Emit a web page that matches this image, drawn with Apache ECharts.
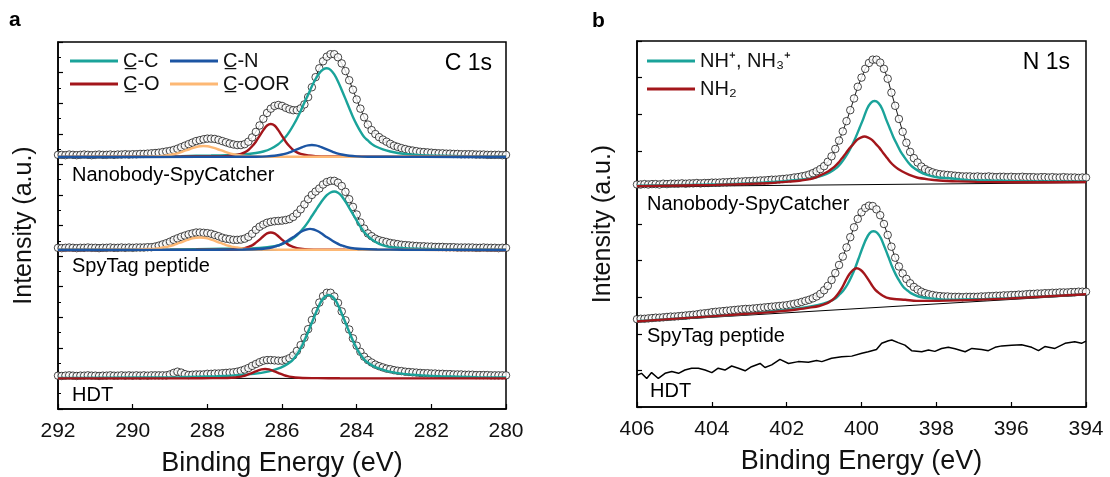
<!DOCTYPE html>
<html><head><meta charset="utf-8">
<script src="https://cdn.jsdelivr.net/npm/echarts/dist/echarts.min.js"></script>
<style>html,body{margin:0;padding:0;background:#fff}#c{width:1110px;height:477px}</style>
</head><body><div id="c"></div>
<script>
// ---------- energy grids (eV) ----------
const cEnergy = Array.from({length:121},(_,i)=>Math.round((292-i*0.1)*10)/10);
const nEnergy = Array.from({length:121},(_,i)=>Math.round((406-i*0.1)*10)/10);

// ---------- C 1s measured points (offset stacked) ----------
const cNanoData = [8.31,
8.31,8.30,8.32,8.31,8.30,8.31,8.32,8.31,8.30,8.31,
8.32,8.31,8.31,8.32,8.31,8.32,8.32,8.33,8.32,8.33,
8.33,8.34,8.34,8.35,8.36,8.37,8.38,8.40,8.42,8.44,
8.47,8.51,8.56,8.61,8.66,8.71,8.76,8.79,8.82,8.84,
8.84,8.83,8.80,8.76,8.72,8.68,8.65,8.63,8.63,8.66,
8.74,8.88,9.06,9.27,9.49,9.68,9.82,9.91,9.94,9.91,
9.85,9.80,9.77,9.77,9.83,9.96,10.20,10.52,10.85,11.14,
11.37,11.52,11.60,11.60,11.50,11.30,11.05,10.75,10.44,10.12,
9.82,9.54,9.30,9.12,8.99,8.89,8.81,8.74,8.67,8.61,
8.57,8.53,8.50,8.47,8.45,8.43,8.41,8.40,8.39,8.38,
8.37,8.36,8.36,8.35,8.35,8.34,8.34,8.33,8.33,8.33,
8.33,8.32,8.32,8.32,8.31,8.31,8.31,8.31,8.30,8.31];
const cSpyData = [
5.27,5.26,5.27,5.28,5.27,5.26,5.27,5.27,5.28,5.27,
5.27,5.26,5.27,5.27,5.28,5.27,5.27,5.28,5.27,5.28,
5.27,5.28,5.28,5.28,5.29,5.29,5.31,5.34,5.38,5.42,
5.47,5.53,5.58,5.63,5.67,5.71,5.74,5.77,5.77,5.76,
5.75,5.73,5.69,5.65,5.60,5.57,5.55,5.53,5.53,5.54,
5.57,5.63,5.73,5.86,5.96,6.03,6.09,6.12,6.14,6.15,
6.16,6.18,6.21,6.28,6.39,6.53,6.69,6.86,7.00,7.11,
7.21,7.34,7.42,7.46,7.46,7.40,7.29,7.10,6.86,6.61,
6.36,6.10,5.90,5.74,5.65,5.57,5.52,5.49,5.46,5.43,
5.41,5.39,5.37,5.36,5.35,5.34,5.33,5.32,5.32,5.31,
5.31,5.30,5.30,5.30,5.29,5.29,5.29,5.28,5.28,5.28,
5.28,5.28,5.27,5.27,5.28,5.27,5.27,5.27,5.26,5.27,
5.27];
const cHdtData = [
1.09,1.08,1.09,1.10,1.09,1.08,1.09,1.09,1.10,1.09,
1.09,1.08,1.09,1.09,1.10,1.09,1.09,1.10,1.09,1.10,
1.09,1.10,1.09,1.10,1.09,1.10,1.10,1.10,1.10,1.10,
1.13,1.18,1.22,1.19,1.14,1.11,1.12,1.13,1.13,1.13,
1.15,1.15,1.16,1.16,1.17,1.18,1.19,1.20,1.22,1.25,
1.29,1.34,1.41,1.47,1.53,1.58,1.60,1.60,1.59,1.58,
1.58,1.61,1.66,1.75,1.90,2.09,2.33,2.61,2.91,3.20,
3.48,3.69,3.80,3.80,3.68,3.47,3.19,2.90,2.60,2.31,
2.07,1.87,1.71,1.60,1.52,1.45,1.40,1.36,1.32,1.30,
1.27,1.25,1.24,1.22,1.21,1.20,1.19,1.18,1.17,1.17,
1.16,1.16,1.15,1.15,1.14,1.14,1.13,1.13,1.13,1.12,
1.12,1.12,1.11,1.11,1.11,1.11,1.10,1.10,1.10,1.10,
1.10];

// ---------- C 1s fitted components [eV, intensity] ----------
const cNanoCC = [[292,8.245],[290.1,8.25],[288.7,8.27],[287.9,8.29],[287.3,8.31],[286.9,8.34],[286.7,8.37],[286.5,8.42],[286.3,8.51],[286.1,8.66],[286.0,8.77],[285.9,8.90],[285.8,9.07],[285.7,9.27],[285.6,9.49],[285.5,9.74],[285.4,10.02],[285.3,10.28],[285.2,10.55],[285.1,10.79],[285.0,10.98],[284.9,11.10],[284.8,11.14],[284.7,11.09],[284.6,10.94],[284.5,10.71],[284.4,10.43],[284.3,10.14],[284.2,9.84],[284.1,9.55],[284.0,9.30],[283.9,9.08],[283.8,8.89],[283.7,8.78],[283.6,8.67],[283.5,8.59],[283.3,8.49],[283.1,8.42],[282.9,8.37],[282.7,8.34],[282.3,8.30],[281.7,8.28],[281.1,8.265],[280,8.255]];
const cNanoCO = [[292,8.245],[288.9,8.25],[287.9,8.26],[287.5,8.27],[287.3,8.29],[287.1,8.34],[287.0,8.39],[286.9,8.47],[286.8,8.59],[286.7,8.74],[286.6,8.93],[286.5,9.12],[286.4,9.27],[286.3,9.32],[286.2,9.27],[286.1,9.12],[286.0,8.93],[285.9,8.74],[285.8,8.59],[285.7,8.47],[285.6,8.39],[285.5,8.34],[285.3,8.29],[285.1,8.27],[284.7,8.26],[283.7,8.25],[280,8.245]];
const cNanoCN = [[292,8.24],[288.2,8.244],[287.2,8.247],[286.7,8.25],[286.4,8.26],[286.2,8.28],[286.0,8.32],[285.9,8.35],[285.8,8.39],[285.7,8.44],[285.6,8.49],[285.5,8.54],[285.4,8.59],[285.3,8.62],[285.2,8.63],[285.1,8.62],[285.0,8.59],[284.9,8.54],[284.8,8.49],[284.7,8.44],[284.6,8.39],[284.5,8.35],[284.4,8.32],[284.2,8.28],[284.0,8.26],[283.7,8.25],[283.2,8.247],[282.2,8.244],[280,8.24]];
const cNanoCOOR = [[292,8.245],[290.1,8.248],[289.6,8.255],[289.3,8.268],[289.1,8.29],[288.9,8.33],[288.8,8.36],[288.7,8.40],[288.6,8.445],[288.5,8.485],[288.4,8.53],[288.3,8.565],[288.2,8.59],[288.1,8.60],[288.0,8.59],[287.9,8.565],[287.8,8.53],[287.7,8.485],[287.6,8.445],[287.5,8.40],[287.4,8.36],[287.3,8.33],[287.1,8.29],[286.9,8.268],[286.6,8.255],[286.1,8.248],[280,8.245]];
const cNanoBase = [[292,8.24],[280,8.24]];

const cSpyCC = [[292,5.21],[289,5.215],[287.6,5.24],[286.6,5.27],[286.2,5.32],[286.0,5.39],[285.8,5.50],[285.6,5.68],[285.5,5.81],[285.4,5.95],[285.3,6.12],[285.2,6.31],[285.1,6.49],[285.0,6.68],[284.9,6.85],[284.8,6.99],[284.7,7.08],[284.6,7.11],[284.5,7.07],[284.4,6.96],[284.3,6.78],[284.2,6.58],[284.1,6.37],[284.0,6.16],[283.9,5.96],[283.8,5.79],[283.7,5.66],[283.6,5.55],[283.4,5.40],[283.2,5.32],[283.0,5.28],[282.6,5.25],[281.6,5.22],[280,5.21]];
const cSpyCO = [[292,5.2],[288.3,5.205],[287.7,5.21],[287.3,5.22],[287.1,5.24],[287.0,5.26],[286.9,5.30],[286.8,5.35],[286.7,5.44],[286.6,5.54],[286.5,5.65],[286.4,5.74],[286.3,5.77],[286.2,5.74],[286.1,5.65],[286.0,5.54],[285.9,5.44],[285.8,5.35],[285.7,5.30],[285.6,5.26],[285.5,5.24],[285.3,5.22],[284.9,5.21],[284.3,5.205],[280,5.2]];
const cSpyCN = [[292,5.2],[287.75,5.208],[287.05,5.217],[286.65,5.23],[286.45,5.25],[286.25,5.29],[286.15,5.33],[286.05,5.37],[285.95,5.43],[285.85,5.50],[285.75,5.58],[285.65,5.66],[285.55,5.75],[285.45,5.82],[285.35,5.87],[285.25,5.89],[285.15,5.87],[285.05,5.82],[284.95,5.75],[284.85,5.66],[284.75,5.58],[284.65,5.50],[284.55,5.43],[284.45,5.37],[284.35,5.33],[284.25,5.29],[284.05,5.25],[283.85,5.23],[283.45,5.217],[282.75,5.208],[280,5.2]];
const cSpyCOOR = [[292,5.2],[290.7,5.207],[290.0,5.21],[289.6,5.23],[289.4,5.24],[289.2,5.28],[289.1,5.30],[289.0,5.33],[288.9,5.36],[288.8,5.41],[288.7,5.45],[288.6,5.50],[288.5,5.54],[288.4,5.58],[288.3,5.60],[288.2,5.61],[288.1,5.60],[288.0,5.58],[287.9,5.54],[287.8,5.50],[287.7,5.45],[287.6,5.41],[287.5,5.36],[287.4,5.33],[287.3,5.30],[287.2,5.28],[287.0,5.24],[286.8,5.23],[286.4,5.21],[285.7,5.207],[280,5.2]];
const cSpyBase = [[292,5.2],[280,5.2]];

const cHdtCC = [[292,1.013],[291.75,1.015],[289.75,1.03],[288.75,1.04],[287.75,1.07],[287.25,1.10],[286.75,1.15],[286.35,1.23],[286.15,1.30],[285.95,1.40],[285.75,1.56],[285.65,1.70],[285.55,1.88],[285.45,2.10],[285.35,2.37],[285.25,2.67],[285.15,2.97],[285.05,3.26],[284.95,3.52],[284.85,3.67],[284.75,3.73],[284.65,3.67],[284.55,3.52],[284.45,3.26],[284.35,2.97],[284.25,2.67],[284.15,2.37],[284.05,2.10],[283.95,1.88],[283.85,1.70],[283.75,1.56],[283.55,1.40],[283.35,1.30],[283.15,1.23],[282.75,1.15],[282.25,1.10],[281.75,1.07],[280.75,1.04],[280,1.03]];
const cHdtCO = [[292,1.0],[288.45,1.003],[287.85,1.008],[287.45,1.016],[287.25,1.032],[287.15,1.049],[287.05,1.074],[286.95,1.11],[286.85,1.155],[286.75,1.206],[286.65,1.257],[286.55,1.295],[286.45,1.31],[286.35,1.295],[286.25,1.257],[286.15,1.206],[286.05,1.155],[285.95,1.11],[285.85,1.074],[285.75,1.049],[285.65,1.032],[285.45,1.016],[285.05,1.008],[284.45,1.003],[280,1.0]];
const cHdtBase = [[292,1.0],[280,1.0]];

// ---------- N 1s measured points ----------
const nNanoData = [
6.08,6.08,6.09,6.08,6.09,6.09,6.08,6.10,6.09,6.10,
6.10,6.10,6.11,6.10,6.11,6.11,6.12,6.11,6.12,6.12,
6.13,6.13,6.13,6.14,6.14,6.15,6.15,6.16,6.16,6.17,
6.17,6.18,6.18,6.19,6.19,6.20,6.21,6.21,6.22,6.23,
6.24,6.25,6.27,6.28,6.30,6.32,6.35,6.39,6.44,6.50,
6.58,6.70,6.85,7.05,7.28,7.53,7.81,8.11,8.43,8.75,
9.00,9.24,9.40,9.49,9.49,9.41,9.24,8.97,8.59,8.23,
7.87,7.52,7.22,6.97,6.80,6.68,6.57,6.50,6.45,6.41,
6.38,6.36,6.35,6.34,6.33,6.32,6.31,6.30,6.30,6.30,
6.29,6.30,6.29,6.29,6.30,6.29,6.28,6.29,6.29,6.28,
6.29,6.28,6.28,6.29,6.28,6.28,6.28,6.27,6.28,6.28,
6.27,6.28,6.27,6.27,6.28,6.27,6.27,6.27,6.26,6.27,
6.27];
const nSpyData = [
2.40,2.41,2.41,2.42,2.43,2.44,2.44,2.45,2.46,2.47,
2.47,2.48,2.49,2.50,2.51,2.52,2.53,2.55,2.56,2.57,
2.59,2.60,2.61,2.62,2.63,2.64,2.65,2.66,2.67,2.68,
2.68,2.69,2.70,2.71,2.72,2.73,2.74,2.75,2.76,2.77,
2.78,2.80,2.82,2.84,2.87,2.90,2.93,2.97,3.02,3.09,
3.19,3.31,3.47,3.66,3.88,4.11,4.36,4.64,4.91,5.14,
5.32,5.44,5.50,5.49,5.40,5.24,5.00,4.70,4.38,4.08,
3.84,3.65,3.50,3.38,3.28,3.21,3.15,3.11,3.08,3.06,
3.04,3.03,3.02,3.02,3.01,3.01,3.01,3.00,3.01,3.01,
3.01,3.01,3.02,3.02,3.03,3.03,3.04,3.04,3.05,3.05,
3.06,3.06,3.07,3.07,3.08,3.09,3.09,3.10,3.10,3.11,
3.11,3.12,3.12,3.13,3.13,3.13,3.14,3.14,3.15,3.15,
3.15];
const nHdtLine = [[406,0.87],[405.88,0.92],[405.74,0.78],[405.61,0.94],[405.43,0.78],[405.25,0.92],[405.07,0.97],[404.89,0.92],[404.72,1.01],[404.54,1.06],[404.36,1.06],[404.18,1.01],[404.0,0.94],[403.83,1.06],[403.65,1.01],[403.47,1.12],[403.29,1.06],[403.11,0.99],[402.94,1.10],[402.71,1.19],[402.58,1.08],[402.4,1.15],[402.18,1.30],[401.95,1.19],[401.69,1.24],[401.42,1.22],[401.2,1.27],[401.06,1.24],[400.8,1.33],[400.53,1.37],[400.26,1.39],[399.99,1.47],[399.82,1.51],[399.6,1.57],[399.46,1.74],[399.28,1.81],[399.19,1.83],[399.02,1.76],[398.84,1.69],[398.66,1.54],[398.39,1.51],[398.21,1.56],[398.04,1.52],[397.86,1.60],[397.68,1.63],[397.5,1.59],[397.23,1.51],[397.05,1.60],[396.79,1.57],[396.61,1.54],[396.43,1.63],[396.25,1.67],[395.99,1.69],[395.72,1.70],[395.45,1.63],[395.27,1.54],[395.1,1.65],[394.83,1.60],[394.56,1.74],[394.3,1.78],[394.12,1.74],[394.0,1.80]];

// ---------- N 1s fitted components ----------
const nNanoNH3 = [[406,6.045],[403.65,6.09],[402.65,6.13],[402.15,6.16],[401.65,6.21],[401.35,6.24],[401.05,6.32],[400.85,6.41],[400.65,6.55],[400.55,6.66],[400.45,6.80],[400.35,6.96],[400.25,7.16],[400.15,7.38],[400.05,7.63],[399.95,7.88],[399.85,8.15],[399.75,8.31],[399.65,8.36],[399.55,8.31],[399.45,8.15],[399.35,7.88],[399.25,7.63],[399.15,7.38],[399.05,7.17],[398.95,6.97],[398.85,6.82],[398.75,6.68],[398.65,6.57],[398.45,6.43],[398.25,6.34],[397.95,6.27],[397.65,6.25],[397.15,6.20],[396.65,6.19],[395.65,6.165],[394,6.16]];
const nNanoNH2 = [[406,6.035],[403.92,6.07],[402.92,6.10],[402.42,6.12],[401.92,6.16],[401.62,6.19],[401.32,6.24],[401.12,6.32],[400.92,6.42],[400.82,6.49],[400.72,6.57],[400.62,6.67],[400.52,6.80],[400.42,6.93],[400.32,7.07],[400.22,7.18],[400.12,7.30],[400.02,7.36],[399.92,7.39],[399.82,7.36],[399.72,7.30],[399.62,7.19],[399.52,7.08],[399.42,6.94],[399.32,6.81],[399.22,6.68],[399.12,6.58],[399.02,6.50],[398.92,6.44],[398.72,6.34],[398.52,6.27],[398.22,6.22],[397.92,6.19],[397.42,6.165],[396.92,6.15],[395.92,6.14],[394,6.146]];
const nNanoBase = [[406,6.02],[394,6.13]];
const nSpyNH3 = [[406,2.345],[403.68,2.50],[402.68,2.58],[401.68,2.69],[401.18,2.78],[400.88,2.87],[400.68,2.98],[400.58,3.08],[400.48,3.19],[400.38,3.34],[400.28,3.54],[400.18,3.77],[400.08,4.05],[399.98,4.33],[399.88,4.58],[399.78,4.75],[399.68,4.80],[399.58,4.76],[399.48,4.61],[399.38,4.36],[399.28,4.10],[399.18,3.83],[399.08,3.61],[398.98,3.43],[398.88,3.28],[398.78,3.19],[398.68,3.11],[398.48,3.02],[398.18,2.97],[397.68,2.93],[396.68,2.95],[395.68,2.99],[394,3.08]];
const nSpyNH2 = [[406,2.34],[404.13,2.47],[403.13,2.54],[402.13,2.62],[401.63,2.68],[401.43,2.71],[401.13,2.76],[400.93,2.83],[400.83,2.89],[400.73,2.97],[400.63,3.09],[400.53,3.24],[400.43,3.44],[400.33,3.62],[400.23,3.74],[400.13,3.79],[400.03,3.75],[399.93,3.65],[399.83,3.50],[399.73,3.34],[399.63,3.20],[399.53,3.11],[399.43,3.04],[399.33,2.99],[399.13,2.95],[398.83,2.93],[398.53,2.90],[398.13,2.90],[397.13,2.92],[396.13,2.96],[394,3.08]];
const nSpyBase = [[406,2.33],[394,3.06]];

// ---------- labels ----------
const cTicks = [292,290,288,286,284,282,280];
const nTicks = [406,404,402,400,398,396,394];
const nameCC = 'C\u0332-C', nameCO = 'C\u0332-O', nameCN = 'C\u0332-N', nameCOOR = 'C\u0332-OOR';
const nameNH3 = 'NH\u207A, NH\u2083\u207A', nameNH2 = 'NH\u2082';
const sampleLabels = ['Nanobody-SpyCatcher','SpyTag peptide','HDT'];

// ---------- styling ----------
const FF = '"Liberation Sans", Arial, Helvetica, sans-serif';
const TXT = '#111';
const TEAL = '#1aa39a', RED = '#a3161b', BLUE = '#1c55a3', ORANGE = '#fdb874';

function zip(xs, ys){ return ys.map((y,i)=>[xs[i], y]); }
function scat(xs, ys, gi){
  return {type:'scatter', xAxisIndex:gi, yAxisIndex:gi, data:zip(xs,ys), symbol:'circle', symbolSize:7.5,
    itemStyle:{color:'#fff', borderColor:'#000', borderWidth:0.9}, silent:true, z:2, animation:false};
}
function ln(name, data, color, gi, w, smooth, z){
  return {type:'line', name:name, xAxisIndex:gi, yAxisIndex:gi, data:data, showSymbol:false, symbol:'none',
    smooth: smooth===undefined?0.3:smooth, lineStyle:{color:color, width:w||2.4}, itemStyle:{color:color}, silent:true, z:z||3, animation:false};
}

function xAx(gi, min, max){
  return {gridIndex:gi, type:'value', min:min, max:max, interval:2, inverse:true,
    axisLine:{show:true, onZero:false, lineStyle:{color:'#000', width:1.5}},
    axisTick:{show:true, inside:true, length:5, lineStyle:{color:'#000', width:1.2}},
    axisLabel:{fontSize:21, color:TXT, margin:12, fontFamily:FF},
    splitLine:{show:false},
    name:'Binding Energy (eV)', nameLocation:'middle', nameGap:41,
    nameTextStyle:{fontSize:27, color:TXT, fontFamily:FF}};
}
function yAx(gi, max, minor){
  return {gridIndex:gi, type:'value', min:0, max:max, interval:1,
    axisLine:{show:true, lineStyle:{color:'#000', width:1.5}},
    axisTick:{show:true, inside:true, length:5, lineStyle:{color:'#000', width:1.2}},
    minorTick:{show:minor, splitNumber:2, length:3, lineStyle:{color:'#000', width:1}},
    axisLabel:{show:false}, splitLine:{show:false}, minorSplitLine:{show:false},
    name:'Intensity (a.u.)', nameLocation:'middle', nameGap:21, nameRotate:90,
    nameTextStyle:{fontSize:25, color:TXT, fontFamily:FF}};
}
function legendCfg(data, left, top, gap){
  return {data:data, orient:'vertical', left:left, top:top, itemWidth:48, itemHeight:3, itemGap:gap,
    icon:'rect', selectedMode:false, padding:0,
    textStyle:{fontSize:20, lineHeight:20, color:TXT, fontFamily:FF}};
}
function txt(text, x, y, size, opts){
  opts = opts || {};
  return {type:'text', x:x, y:y, silent:true, z:10,
    style:{text:text, fontSize:size, fontFamily:FF, fontWeight:opts.bold?'bold':'normal', fill:'#000',
      align:opts.align||'left', verticalAlign:'middle'}};
}

const series = [
  // thin measured-data traces under the open circles
  ln(null, zip(cEnergy, cNanoData), '#000', 0, 0.9, false, 1),
  ln(null, zip(cEnergy, cSpyData), '#000', 0, 0.9, false, 1),
  ln(null, zip(cEnergy, cHdtData), '#000', 0, 0.9, false, 1),
  scat(cEnergy, cNanoData, 0), scat(cEnergy, cSpyData, 0), scat(cEnergy, cHdtData, 0),
  ln(null, cNanoBase, '#000', 0, 1, false), ln(null, cSpyBase, '#000', 0, 1, false), ln(null, cHdtBase, '#000', 0, 1, false),
  ln(nameCC, cNanoCC, TEAL, 0), ln(nameCC, cSpyCC, TEAL, 0), ln(nameCC, cHdtCC, TEAL, 0),
  ln(nameCO, cNanoCO, RED, 0), ln(nameCO, cSpyCO, RED, 0), ln(nameCO, cHdtCO, RED, 0),
  ln(nameCOOR, cNanoCOOR, ORANGE, 0), ln(nameCOOR, cSpyCOOR, ORANGE, 0),
  ln(nameCN, cNanoCN, BLUE, 0), ln(nameCN, cSpyCN, BLUE, 0),

  ln(null, zip(nEnergy, nNanoData), '#000', 1, 0.9, false, 1),
  ln(null, zip(nEnergy, nSpyData), '#000', 1, 0.9, false, 1),
  scat(nEnergy, nNanoData, 1), scat(nEnergy, nSpyData, 1),
  ln(null, nNanoBase, '#000', 1, 1, false), ln(null, nSpyBase, '#000', 1, 1, false),
  ln(nameNH3, nNanoNH3, TEAL, 1), ln(nameNH3, nSpyNH3, TEAL, 1),
  ln(nameNH2, nNanoNH2, RED, 1), ln(nameNH2, nSpyNH2, RED, 1),
  ln(null, nHdtLine, '#000', 1, 1.5, false)
];

const chart = echarts.init(document.getElementById('c'), null, {renderer:'canvas'});
chart.setOption({
  backgroundColor:'#fff',
  animation:false,
  textStyle:{fontFamily:FF},
  grid:[
    {left:58, top:42, width:448, height:367, show:true, borderColor:'#000', borderWidth:1.5, backgroundColor:'transparent', containLabel:false, outerBoundsMode:'none'},
    {left:637, top:41, width:449, height:366, show:true, borderColor:'#000', borderWidth:1.5, backgroundColor:'transparent', containLabel:false, outerBoundsMode:'none'}
  ],
  xAxis:[xAx(0, cTicks[cTicks.length-1], cTicks[0]), xAx(1, nTicks[nTicks.length-1], nTicks[0])],
  yAxis:[yAx(0, 12, true), yAx(1, 10, false)],
  legend:[
    legendCfg([nameCC, nameCO], 70, 51, 3),
    legendCfg([nameCN, nameCOOR], 170, 51, 3),
    legendCfg([nameNH3, nameNH2], 647, 51, 8)
  ],
  graphic:[
    txt('a', 9, 20, 21, {bold:true}),
    txt('b', 592, 21, 21, {bold:true}),
    txt('C 1s', 492, 64, 23, {align:'right'}),
    txt('N 1s', 1070, 63, 23, {align:'right'}),
    txt(sampleLabels[0], 72, 175, 20),
    txt(sampleLabels[1], 72, 266, 20),
    txt(sampleLabels[2], 72, 395, 20),
    txt(sampleLabels[0], 647, 204, 20),
    txt(sampleLabels[1], 647, 336, 20),
    txt(sampleLabels[2], 650, 391, 20)
  ],
  series: series
});
</script></body></html>
